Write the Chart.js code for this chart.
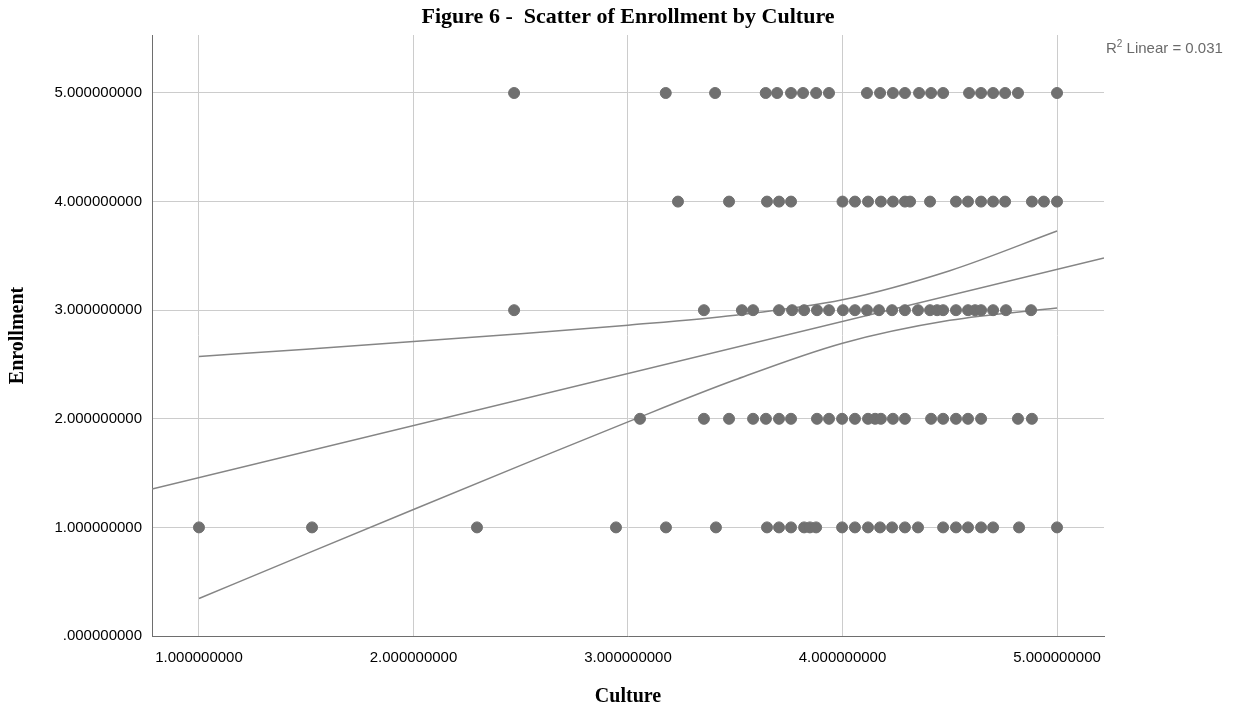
<!DOCTYPE html>
<html>
<head>
<meta charset="utf-8">
<script src="https://cdn.jsdelivr.net/npm/chart.js@4/dist/chart.umd.min.js"></script>
<style>
  html, body { margin: 0; padding: 0; background: #ffffff; }
  #wrap { width: 1240px; height: 709px; }
</style>
</head>
<body>
<div id="wrap"><canvas id="chart" width="1240" height="709"></canvas></div>
<script>
// Culture scores of respondents, grouped by their Enrollment answer
const cultureAtEnrollment5 = [2.469, 3.176, 3.406, 3.642, 3.695, 3.760, 3.816, 3.877, 3.937,
  4.114, 4.175, 4.235, 4.291, 4.357, 4.413, 4.469, 4.590, 4.646, 4.702, 4.758, 4.818, 5.000];
const cultureAtEnrollment4 = [3.233, 3.471, 3.648, 3.704, 3.760, 4.000, 4.058, 4.119, 4.179,
  4.235, 4.291, 4.315, 4.408, 4.529, 4.585, 4.646, 4.702, 4.758, 4.883, 4.939, 5.000];
const cultureAtEnrollment3 = [2.469, 3.354, 3.531, 3.583, 3.704, 3.765, 3.821, 3.881, 3.937,
  4.002, 4.058, 4.114, 4.170, 4.231, 4.291, 4.352, 4.408, 4.441, 4.469, 4.529, 4.585, 4.618,
  4.646, 4.702, 4.762, 4.879];
const cultureAtEnrollment2 = [3.056, 3.354, 3.471, 3.583, 3.643, 3.704, 3.760, 3.881, 3.937,
  3.998, 4.058, 4.119, 4.152, 4.179, 4.235, 4.291, 4.413, 4.469, 4.529, 4.585, 4.646, 4.818, 4.883];
const cultureAtEnrollment1 = [1.000, 1.527, 2.296, 2.944, 3.177, 3.410, 3.648, 3.704, 3.760,
  3.821, 3.848, 3.877, 3.998, 4.058, 4.119, 4.175, 4.231, 4.291, 4.352, 4.469, 4.529, 4.585,
  4.646, 4.702, 4.823, 5.000];

// Linear fit across the plotted range
const fitX = [0.781, 5.219];
const fitY = [1.354, 3.480];

// 95% confidence band of the mean around the fit
const bandX = [1.0, 1.5, 2.0, 2.5, 3.0, 3.5, 4.0, 4.5, 5.0];
const bandUpper = [2.573, 2.641, 2.711, 2.784, 2.862, 2.954, 3.096, 3.364, 3.729];
const bandLower = [0.345, 0.756, 1.165, 1.571, 1.972, 2.359, 2.696, 2.907, 3.021];

// Axis ticks
const xTickValues = [1, 2, 3, 4, 5];
const xTickLabels = ['1.000000000', '2.000000000', '3.000000000', '4.000000000', '5.000000000'];
const yTickValues = [0, 1, 2, 3, 4, 5];
const yTickLabels = ['.000000000', '1.000000000', '2.000000000', '3.000000000', '4.000000000', '5.000000000'];

const rSquaredText = '0.031';

const groups = [
  [5, cultureAtEnrollment5],
  [4, cultureAtEnrollment4],
  [3, cultureAtEnrollment3],
  [2, cultureAtEnrollment2],
  [1, cultureAtEnrollment1]
];
const scatterPoints = [];
groups.forEach(([level, xs]) => xs.forEach(x => scatterPoints.push({ x: x, y: level })));

const toPoints = (xs, ys) => xs.map((x, i) => ({ x: x, y: ys[i] }));

const dotColor = '#707070';
const lineColor = '#858585';
const serif = '"Liberation Serif", "Times New Roman", serif';
const sans = '"Liberation Sans", Arial, sans-serif';

// R² annotation in the upper right corner
const rSquaredLabel = {
  id: 'rSquaredLabel',
  afterDraw(chart) {
    const ctx = chart.ctx;
    ctx.save();
    ctx.fillStyle = '#6a6a6a';
    ctx.textBaseline = 'alphabetic';
    ctx.textAlign = 'left';
    let x = 1106;
    const y = 53;
    ctx.font = '15px ' + sans;
    ctx.fillText('R', x, y);
    x += ctx.measureText('R').width;
    ctx.font = '10px ' + sans;
    ctx.fillText('2', x, y - 6);
    x += ctx.measureText('2').width;
    ctx.font = '15px ' + sans;
    ctx.fillText(' Linear = ' + rSquaredText, x, y);
    ctx.restore();
  }
};

new Chart(document.getElementById('chart'), {
  type: 'scatter',
  data: {
    datasets: [
      {
        type: 'line',
        data: toPoints(bandX, bandUpper),
        borderColor: lineColor,
        borderWidth: 1.5,
        pointRadius: 0,
        fill: false,
        cubicInterpolationMode: 'monotone',
        order: 2
      },
      {
        type: 'line',
        data: toPoints(bandX, bandLower),
        borderColor: lineColor,
        borderWidth: 1.5,
        pointRadius: 0,
        fill: false,
        cubicInterpolationMode: 'monotone',
        order: 2
      },
      {
        type: 'line',
        data: toPoints(fitX, fitY),
        borderColor: lineColor,
        borderWidth: 1.5,
        pointRadius: 0,
        fill: false,
        order: 2
      },
      {
        data: scatterPoints,
        backgroundColor: dotColor,
        borderColor: dotColor,
        borderWidth: 1,
        pointRadius: 5.5,
        order: 1
      }
    ]
  },
  options: {
    responsive: false,
    animation: false,
    events: [],
    layout: { padding: { left: 0, right: 136, top: 0, bottom: 0 } },
    plugins: {
      legend: { display: false },
      tooltip: { enabled: false },
      title: {
        display: true,
        fullSize: false,
        text: 'Figure 6 -  Scatter of Enrollment by Culture',
        color: '#000000',
        font: { family: serif, size: 22, weight: 'bold', lineHeight: 1.2 },
        padding: { top: 4, bottom: 4.6 }
      }
    },
    scales: {
      x: {
        type: 'linear',
        min: 0.781,
        max: 5.219,
        afterFit(scale) { scale.height = 73; },
        afterBuildTicks(scale) { scale.ticks = xTickValues.map(v => ({ value: v })); },
        ticks: {
          color: '#000000',
          font: { family: sans, size: 15 },
          padding: 13,
          maxRotation: 0,
          autoSkip: false,
          callback: (v, i) => xTickLabels[i]
        },
        grid: { color: '#cccccc', lineWidth: 1, drawTicks: false },
        border: { color: '#6e6e6e', width: 1 },
        title: {
          display: true,
          text: 'Culture',
          color: '#000000',
          font: { family: serif, size: 20, weight: 'bold', lineHeight: 1.2 },
          padding: { top: 0, bottom: 0 }
        }
      },
      y: {
        type: 'linear',
        min: 0,
        max: 5.534,
        afterFit(scale) { scale.width = 152; },
        afterBuildTicks(scale) { scale.ticks = yTickValues.map(v => ({ value: v })); },
        ticks: {
          color: '#000000',
          font: { family: sans, size: 15 },
          padding: 10,
          autoSkip: false,
          callback: (v, i) => yTickLabels[i]
        },
        grid: { color: '#cccccc', lineWidth: 1, drawTicks: false },
        border: { color: '#6e6e6e', width: 1 },
        title: {
          display: true,
          text: 'Enrollment',
          color: '#000000',
          font: { family: serif, size: 20, weight: 'bold', lineHeight: 1.2 },
          padding: { top: 6, bottom: 0 }
        }
      }
    }
  },
  plugins: [rSquaredLabel]
});
</script>
</body>
</html>
